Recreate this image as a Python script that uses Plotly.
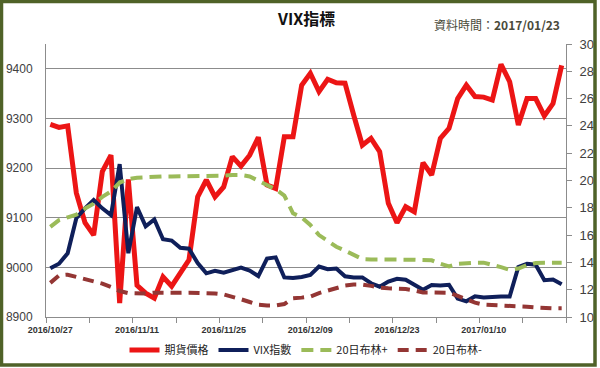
import plotly.graph_objects as go

# ---- data ----
tick_labels = ["2016/10/27", "2016/11/11", "2016/11/25", "2016/12/09", "2016/12/23", "2017/01/10"]
label_positions = [0, 10, 20, 30, 40, 50]

futures = [9288, 9282, 9285, 9150, 9090, 9065, 9193, 9226, 8928, 9177,
           8964, 8948, 8938, 8981, 8962, 8988, 9015, 9142, 9176, 9142,
           9162, 9223, 9204, 9226, 9262, 9166, 9159, 9263, 9263, 9367,
           9391, 9354, 9379, 9372, 9371, 9307, 9246, 9260, 9233, 9129,
           9090, 9122, 9112, 9211, 9186, 9260, 9280, 9340, 9367, 9344,
           9343, 9337, 9409, 9374, 9287, 9340, 9340, 9305, 9330, 9407]

vix = [13.57, 13.9, 14.67, 17.23, 17.96, 18.57, 17.96, 17.47, 21.2, 14.67,
       18.05, 16.65, 17.15, 15.7, 15.6, 15.07, 15.0, 13.95, 13.2, 13.38,
       13.25, 13.4, 13.62, 13.4, 13.0, 14.28, 14.37, 12.9, 12.86, 12.93,
       13.08, 13.7, 13.5, 13.55, 12.98, 12.9, 12.9, 12.47, 12.22, 12.6,
       12.8, 12.73, 12.35, 12.0, 12.35, 12.3, 12.36, 11.35, 11.15, 11.52,
       11.43, 11.48, 11.5, 11.5, 13.66, 13.9, 13.83, 12.7, 12.75, 12.4]

boll_up = [16.6, 17.1, 17.3, 17.5, 17.95, 18.3, 18.8, 19.2, 19.85, 20.1,
           20.2, 20.25, 20.3, 20.3, 20.3, 20.3, 20.3, 20.3, 20.3, 20.35,
           20.35, 20.4, 20.4, 20.3, 20.0, 19.65, 19.35, 18.9, 17.6, 17.3,
           16.74, 16.0, 15.57, 15.15, 14.86, 14.54, 14.25, 14.22, 14.2, 14.2,
           14.2, 14.2, 14.2, 14.18, 14.15, 13.9, 13.7, 13.9, 13.97, 13.98,
           13.98, 13.85, 13.65, 13.45, 13.55, 13.8, 13.95, 13.98, 13.98, 13.98]

boll_dn = [12.5, 13.05, 13.1, 12.95, 12.8, 12.6, 12.45, 12.2, 11.9, 11.75,
           11.73, 11.73, 11.78, 11.8, 11.8, 11.77, 11.78, 11.78, 11.75, 11.72,
           11.65, 11.5, 11.3, 11.1, 10.9, 10.85, 10.85, 10.95, 11.37, 11.42,
           11.5, 11.75, 11.95, 12.15, 12.3, 12.38, 12.38, 12.28, 12.15, 12.1,
           12.08, 12.05, 11.95, 11.8, 11.8, 11.8, 11.78, 11.55, 11.3, 11.05,
           10.9, 10.88, 10.88, 10.85, 10.8, 10.75, 10.7, 10.64, 10.64, 10.64]

x = list(range(len(futures)))
n = len(futures)

FONT = "Liberation Sans, Arial, Noto Sans CJK TC, sans-serif"
CJK = "Noto Sans CJK TC, Liberation Sans, sans-serif"

fig = go.Figure()
fig.add_trace(go.Scatter(x=x, y=futures, name="期貨價格", mode="lines",
                         line=dict(color="#ec1515", width=5), yaxis="y"))
fig.add_trace(go.Scatter(x=x, y=vix, name="VIX指數", mode="lines",
                         line=dict(color="#0f1f5a", width=4), yaxis="y2"))
fig.add_trace(go.Scatter(x=x, y=boll_up, name="20日布林+", mode="lines",
                         line=dict(color="#9bbb59", width=4, dash="12px,7px"), yaxis="y2"))
fig.add_trace(go.Scatter(x=x, y=boll_dn, name="20日布林-", mode="lines",
                         line=dict(color="#943634", width=4, dash="11px,7px"), yaxis="y2"))

W, H = 600, 368
L, R, T, B = 46, 34, 44, 51
pw, ph = W - L - R, H - T - B

def px(xp):
    return (xp - L) / pw

def py(yp):
    return (H - B - yp) / ph

fig.update_layout(
    width=W, height=H,
    margin=dict(l=L, r=R, t=T, b=B, pad=0, autoexpand=False),
    paper_bgcolor="white", plot_bgcolor="white",
    font=dict(family=FONT, color="#404040"),
    showlegend=True,
    hovermode=False,
    legend=dict(orientation="h", x=0.5, xanchor="center", y=py(350), yanchor="middle",
                font=dict(family=CJK, size=11, color="#222222"),
                itemwidth=30, tracegroupgap=0, bgcolor="rgba(0,0,0,0)"),
    xaxis=dict(range=[-0.5, n - 0.5], tickmode="array", tickvals=label_positions,
               ticktext=["<b>%s</b>" % t for t in tick_labels], ticks="",
               showgrid=False, zeroline=False,
               showline=True, linecolor="#8c8c8c", linewidth=1,
               tickfont=dict(size=9, color="#333333", family="Liberation Sans, Arial"),
               ticklabelstandoff=4,
               minor=dict(tickmode="array", tickvals=[v - 0.5 for v in range(0, n + 1, 5)],
                          ticks="outside", ticklen=5, tickcolor="#8c8c8c", showgrid=False)),
    yaxis=dict(range=[8900, 9450], tick0=8900, dtick=100, showgrid=True,
               gridcolor="#8c8c8c", gridwidth=1, zeroline=False,
               showline=True, linecolor="#8c8c8c", ticks="",
               ticklabelstandoff=10,
               tickfont=dict(size=12, color="#404040")),
    yaxis2=dict(range=[10, 30], tick0=10, dtick=2, overlaying="y", side="right",
                showgrid=False, zeroline=False, showline=True, linecolor="#8c8c8c",
                ticks="outside", ticklen=5, tickcolor="#8c8c8c",
                ticklabelstandoff=5,
                tickfont=dict(size=13, color="#404040")),
)

fig.add_annotation(text="<b>VIX指標</b>", x=0.5, y=py(18), xref="paper", yref="paper",
                   showarrow=False, xanchor="center", yanchor="middle",
                   font=dict(family=CJK, size=16, color="#111111"))
fig.add_annotation(text="資料時間：<b>2017/01/23</b>", x=px(562), y=py(24),
                   xref="paper", yref="paper", showarrow=False,
                   xanchor="right", yanchor="middle",
                   font=dict(family=CJK, size=12, color="#4a4a3a"))

fig.add_shape(type="rect", xref="paper", yref="paper",
              x0=px(1.5), x1=px(595), y0=py(365), y1=py(1.5),
              line=dict(color="#4f6228", width=3.5), fillcolor="rgba(0,0,0,0)", layer="above")

fig.write_html("out.html", config={"displayModeBar": False, "staticPlot": True},
               post_script="document.body.style.margin='0px';")
